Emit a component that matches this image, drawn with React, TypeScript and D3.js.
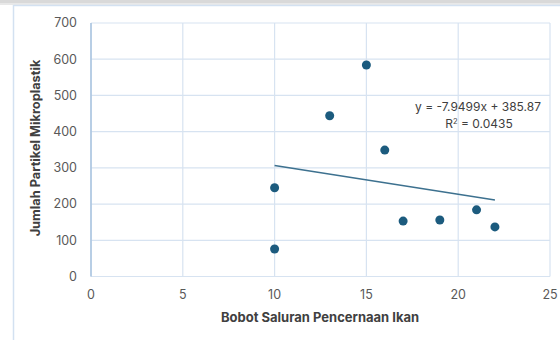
import React from "react";
import * as d3 from "d3";

const xValues = [10, 10, 13, 15, 16, 17, 19, 21, 22];
const yValues = [245, 76, 444, 584, 349, 153, 156, 184, 137];
const xTicks = [0, 5, 10, 15, 20, 25];
const yTicks = [0, 100, 200, 300, 400, 500, 600, 700];
const slope = -7.9499;
const intercept = 385.87;
const trendRange = [10, 22];
const eqLabel = "y = -7.9499x + 385.87";
const r2Value = "0.0435";
const xTitle = "Bobot Saluran Pencernaan Ikan";
const yTitle = "Jumlah Partikel Mikroplastik";

export default function App() {
  const W = 560, H = 340;
  const x = d3.scaleLinear().domain([0, 25]).range([91, 550]);
  const y = d3.scaleLinear().domain([0, 700]).range([276.5, 23]);
  const font = "Inter, 'Noto Sans', sans-serif";
  const line = d3.line<number>().x((d) => x(d)).y((d) => y(slope * d + intercept));
  return (
    <svg width={W} height={H} style={{ position: "absolute", left: 0, top: 0, background: "#fff" }}>
      <rect x={0} y={0} width={W} height={5} fill="#d9d9d9" />
      <rect x={0} y={3} width={W} height={2} fill="#e8e8e8" />
      <line x1={13.5} x2={W} y1={5.5} y2={5.5} stroke="#d3e1f1" strokeWidth={1.5} />
      <line x1={13.5} x2={13.5} y1={5} y2={H} stroke="#d3e1f1" strokeWidth={1.5} />
      {yTicks.map((t) => (
        <g key={"y" + t}>
          <line x1={x(0)} x2={x(25)} y1={y(t)} y2={y(t)} stroke="#d7e3f1" strokeWidth={1.2} />
          <text x={77} y={y(t)} dy="0.35em" textAnchor="end" fontFamily={font} fontSize={12.5} fill="#595959">{t}</text>
        </g>
      ))}
      {xTicks.map((t) => (
        <g key={"x" + t}>
          <line x1={x(t)} x2={x(t)} y1={y(0)} y2={y(700)} stroke="#d7e3f1" strokeWidth={1.2} />
          <text x={x(t)} y={295} dy="0.35em" textAnchor="middle" fontFamily={font} fontSize={12.5} fill="#595959">{t}</text>
        </g>
      ))}
      <line x1={x(0)} x2={x(0)} y1={y(0)} y2={y(700)} stroke="#a9c3df" strokeWidth={1.5} />
      <path d={line(trendRange) || ""} fill="none" stroke="#3d718f" strokeWidth={1.5} />
      {xValues.map((v, i) => (
        <circle key={i} cx={x(v)} cy={y(yValues[i])} r={4.5} fill="#1c5b7e" />
      ))}
      <text x={478} y={107} dy="0.35em" textAnchor="middle" fontFamily={font} fontSize={12} fill="#404040">{eqLabel}</text>
      <text x={479} y={124} dy="0.35em" textAnchor="middle" fontFamily={font} fontSize={12} fill="#404040">
        R<tspan dy="-4" fontSize={7.5}>2</tspan><tspan dy="4"> = {r2Value}</tspan>
      </text>
      <text x={320} y={317} dy="0.35em" textAnchor="middle" fontFamily={font} fontSize={13} fontWeight={700} fill="#404040">{xTitle}</text>
      <text transform={`translate(36,148) rotate(-90)`} dy="0.35em" textAnchor="middle" fontFamily={font} fontSize={12.8} fontWeight={700} fill="#404040">{yTitle}</text>
    </svg>
  );
}
